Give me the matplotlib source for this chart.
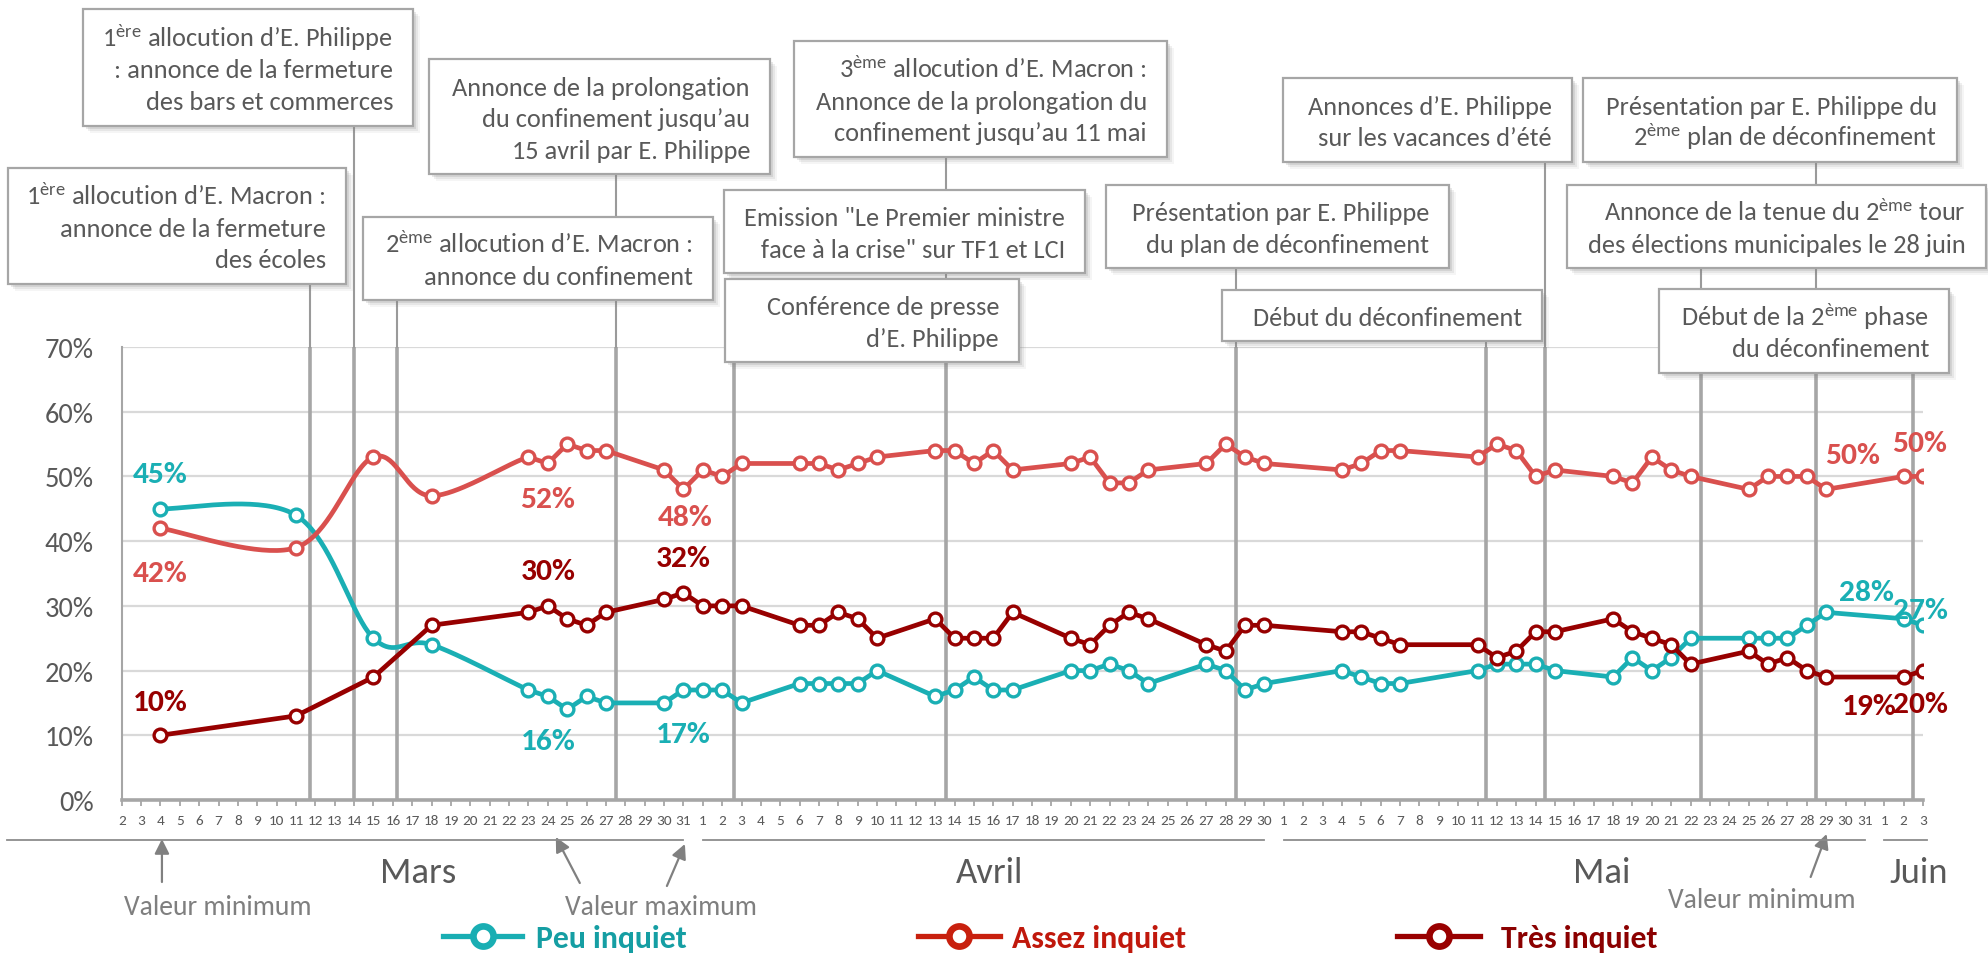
import datetime as dt
import numpy as np
import matplotlib
matplotlib.use("Agg")
import matplotlib.pyplot as plt
from matplotlib import font_manager as fm
from matplotlib.patches import Rectangle
from matplotlib.lines import Line2D
from matplotlib import transforms as mtrans

# ------------------------------------------------------------------ data
dates = ["03-04", "03-11", "03-15", "03-18", "03-23", "03-24", "03-25", "03-26", "03-27", "03-30", "03-31",
         "04-01", "04-02", "04-03", "04-06", "04-07", "04-08", "04-09", "04-10", "04-13", "04-14", "04-15",
         "04-16", "04-17", "04-20", "04-21", "04-22", "04-23", "04-24", "04-27", "04-28", "04-29", "04-30",
         "05-04", "05-05", "05-06", "05-07", "05-11", "05-12", "05-13", "05-14", "05-15", "05-18", "05-19",
         "05-20", "05-21", "05-22", "05-25", "05-26", "05-27", "05-28", "05-29",
         "06-02", "06-03"]

peu = [45, 44, 25, 24, 17, 16, 14, 16, 15, 15, 17,
       17, 17, 15, 18, 18, 18, 18, 20, 16, 17, 19, 17, 17, 20, 20, 21, 20, 18, 21, 20, 17, 18,
       20, 19, 18, 18, 20, 21, 21, 21, 20, 19, 22, 20, 22, 25, 25, 25, 25, 27, 29,
       28, 27]

assez = [42, 39, 53, 47, 53, 52, 55, 54, 54, 51, 48,
         51, 50, 52, 52, 52, 51, 52, 53, 54, 54, 52, 54, 51, 52, 53, 49, 49, 51, 52, 55, 53, 52,
         51, 52, 54, 54, 53, 55, 54, 50, 51, 50, 49, 53, 51, 50, 48, 50, 50, 50, 48,
         50, 50]

tres = [10, 13, 19, 27, 29, 30, 28, 27, 29, 31, 32,
        30, 30, 30, 27, 27, 29, 28, 25, 28, 25, 25, 25, 29, 25, 24, 27, 29, 28, 24, 23, 27, 27,
        26, 26, 25, 24, 24, 22, 23, 26, 26, 28, 26, 25, 24, 21, 23, 21, 22, 20, 19,
        19, 20]

series_names = ["Peu inquiet", "Assez inquiet", "Très inquiet"]
month_names = ["Mars", "Avril", "Mai", "Juin"]
yticks = [0, 10, 20, 30, 40, 50, 60, 70]

# data labels: (series, date)
label_points = [("peu", "03-04"), ("assez", "03-04"), ("tres", "03-04"),
                ("assez", "03-24"), ("tres", "03-24"), ("peu", "03-24"),
                ("assez", "03-31"), ("tres", "03-31"), ("peu", "03-31"),
                ("assez", "06-02"), ("assez", "06-03"),
                ("peu", "06-02"), ("peu", "06-03"),
                ("tres", "06-02"), ("tres", "06-03")]

# annotation boxes (text lines)
box_texts = [
    ["1$^{\\mathrm{ère}}$ allocution d’E. Philippe", ": annonce de la fermeture", "des bars et commerces"],
    ["1$^{\\mathrm{ère}}$ allocution d’E. Macron :", "annonce de la fermeture", "des écoles"],
    ["Annonce de la prolongation", "du confinement jusqu’au", "15 avril par E. Philippe"],
    ["2$^{\\mathrm{ème}}$ allocution d’E. Macron :", "annonce du confinement"],
    ["3$^{\\mathrm{ème}}$ allocution d’E. Macron :", "Annonce de la prolongation du", "confinement jusqu’au 11 mai"],
    ["Emission \"Le Premier ministre", "face à la crise\" sur TF1 et LCI"],
    ["Conférence de presse", "d’E. Philippe"],
    ["Annonces d’E. Philippe", "sur les vacances d’été"],
    ["Présentation par E. Philippe du", "2$^{\\mathrm{ème}}$ plan de déconfinement"],
    ["Présentation par E. Philippe", "du plan de déconfinement"],
    ["Annonce de la tenue du 2$^{\\mathrm{ème}}$ tour", "des élections municipales le 28 juin"],
    ["Début du déconfinement"],
    ["Début de la 2$^{\\mathrm{ème}}$ phase", "du déconfinement"],
]

# ------------------------------------------------------------------ layout / style
W, H, DPI = 1988, 954, 100
X0_PX, X1_PX, Y0_PX, YTOP_PX = 121.7, 1923.0, 801.0, 348.0

# box rectangles (x0, y0, x1, y1) in image pixels (top-left origin)
box_rects = [(83, 10, 413, 127), (8, 169, 346, 285), (429, 60, 770, 175), (363, 218, 713, 301),
             (794, 42, 1167, 158), (724, 191, 1085, 274), (725, 280, 1019, 363),
             (1283, 79, 1572, 163), (1583, 79, 1957, 163), (1106, 186, 1449, 269),
             (1567, 186, 1986, 269), (1222, 291, 1542, 342), (1659, 290, 1949, 374)]

# event lines: x position (in day index units) and the y pixel where the connector starts
event_x = [9.7, 12.0, 14.2, 25.5, 31.6, 42.55, 57.55, 70.45, 73.5, 81.55, 87.5, 92.5]
event_top = [285, 127, 301, 175, 363, 158, 269, 342, 163, 269, 163, 374]

# label offsets in pixels (dx, dy up)
label_offsets = [(0, 38), (0, -41), (0, 37), (0, -32), (0, 38), (0, -41),
                 (2, -24), (0, 38), (0, -41), (-51, 25), (-3, 37), (-37, 30), (-3, 19),
                 (-34, -26), (-3, -30)]

month_label_x = [15.3, 44.8, 76.4, 92.8]
smooth_upto = {"peu": 5, "assez": 5, "tres": 1}

PEU_C, ASSEZ_C, TRES_C = "#1AAFB4", "#D9504E", "#970000"
LEG_LINE = ["#19AEB3", "#C8200E", "#990000"]
LEG_TEXT = ["#159EA3", "#C0180C", "#8B0000"]
TXT = "#595959"
GRAY = "#A6A6A6"


def pick_font(cands):
    for f in cands:
        try:
            fm.findfont(fm.FontProperties(family=f), fallback_to_default=False)
            return f
        except Exception:
            pass
    return "DejaVu Sans"


FONT = pick_font(["Carlito", "Lato", "Open Sans", "DejaVu Sans"])
plt.rcParams["font.family"] = [FONT, "DejaVu Sans"]
plt.rcParams["mathtext.fontset"] = "custom"
plt.rcParams["mathtext.rm"] = FONT
plt.rcParams["mathtext.it"] = FONT + ":italic"
plt.rcParams["mathtext.bf"] = FONT + ":bold"

fig = plt.figure(figsize=(W / DPI, H / DPI), dpi=DPI)
fig.patch.set_facecolor("white")
renderer = fig.canvas.get_renderer()


def fx(x):
    return x / W


def fy(y):
    return 1 - y / H


def fit_size(s, target_px, weight="normal"):
    t = fig.text(0, 0, s, fontsize=20, fontweight=weight)
    w = t.get_window_extent(renderer=renderer).width
    t.remove()
    return 20 * target_px / w


BOX_FS = fit_size("Annonce de la prolongation", 298)
YT_FS = fit_size("70%", 49)
XT_FS = fit_size("20", 15.5)
MONTH_FS = fit_size("Mars", 76)
VAL_FS = fit_size("Valeur minimum", 188)
LAB_FS = fit_size("45%", 55, "bold")
LEG_FS = fit_size("Peu inquiet", 151, "bold")


def cap_px(fs):
    return 0.72 * fs * DPI / 72


# ------------------------------------------------------------------ axes
ax = fig.add_axes([fx(X0_PX), fy(Y0_PX), (X1_PX - X0_PX) / W, (Y0_PX - YTOP_PX) / H])
START = dt.date(2020, 3, 2)
END = dt.date(2020, 6, 3)
n_days = (END - START).days


def day_index(s):
    m, d = map(int, s.split("-"))
    return (dt.date(2020, m, d) - START).days


x = np.array([day_index(s) for s in dates], dtype=float)
values = {"peu": np.array(peu, float), "assez": np.array(assez, float), "tres": np.array(tres, float)}
colors = {"peu": PEU_C, "assez": ASSEZ_C, "tres": TRES_C}

ax.set_xlim(0, n_days)
ax.set_ylim(0, 70)
ax.set_yticks(yticks)
ax.set_yticklabels([f"{v}%" for v in yticks])
ax.set_xticks(range(n_days + 1))
ax.set_xticklabels([str((START + dt.timedelta(days=i)).day) for i in range(n_days + 1)])
ax.tick_params(axis="x", length=4, width=1.3, color=GRAY, labelsize=XT_FS, labelcolor=TXT, pad=6)
ax.tick_params(axis="y", length=0, labelsize=YT_FS, labelcolor=TXT, pad=20)
for sp in ["top", "right"]:
    ax.spines[sp].set_visible(False)
ax.spines["left"].set_color(GRAY)
ax.spines["left"].set_linewidth(1.5)
ax.spines["bottom"].set_color(GRAY)
ax.spines["bottom"].set_linewidth(2.6)
ax.spines["bottom"].set_zorder(4)
ax.yaxis.grid(True, color="#D9D9D9", lw=1.6, zorder=0)
ax.set_axisbelow(True)

for ex in event_x:
    ax.axvline(ex, color=GRAY, lw=2.6, zorder=1)


def smooth_path(xv, yv, n_smooth, samples=40):
    P = np.column_stack([xv, yv]).astype(float)
    xs, ys = [P[0, 0]], [P[0, 1]]
    for i in range(len(P) - 1):
        if i < n_smooth - 1:
            p0 = P[i - 1] if i > 0 else P[i]
            p1, p2 = P[i], P[i + 1]
            p3 = P[i + 2] if i + 2 < len(P) else P[i + 1]
            c1 = p1 + (p2 - p0) / 6
            c2 = p2 - (p3 - p1) / 6
            t = np.linspace(0, 1, samples)[1:, None]
            B = (1 - t) ** 3 * p1 + 3 * (1 - t) ** 2 * t * c1 + 3 * (1 - t) * t ** 2 * c2 + t ** 3 * p2
            xs.extend(B[:, 0])
            ys.extend(B[:, 1])
        else:
            xs.append(P[i + 1, 0])
            ys.append(P[i + 1, 1])
    return xs, ys


for k, name in enumerate(["peu", "assez", "tres"]):
    xs, ys = smooth_path(x, values[name], smooth_upto[name])
    ax.plot(xs, ys, color=colors[name], lw=3.4, zorder=3 + k, solid_joinstyle="round")
    ax.plot(x, values[name], ls="none", marker="o", ms=9.2, mew=2.4, mfc="white",
            mec=colors[name], zorder=3.5 + k)

idx_of = {d: i for i, d in enumerate(dates)}
for (name, d), (dx, dy) in zip(label_points, label_offsets):
    v = values[name][idx_of[d]]
    ax.annotate(f"{v:.0f}%", xy=(x[idx_of[d]], v), xytext=(dx * 0.72, (dy - cap_px(LAB_FS) / 2) * 0.72),
                textcoords="offset points", ha="center", va="baseline", fontsize=LAB_FS,
                fontweight="bold", color=colors[name], zorder=10, annotation_clip=False)

blend = mtrans.blended_transform_factory(ax.transData, fig.transFigure)

# connectors above plot
for ex, top in zip(event_x, event_top):
    if top < YTOP_PX:
        fig.add_artist(Line2D([ex, ex], [fy(top), fy(YTOP_PX)], transform=blend, color="#9A9A9A",
                              lw=1.5, zorder=5))

# month separators and labels
month_first = [0, day_index("04-01"), day_index("05-01"), day_index("06-01")]
month_last = [day_index("03-31"), day_index("04-30"), day_index("05-31"), n_days]
ext_left = [-5.9, 0, 0, 0]
ext_right = [0, 0, 0, 0.2]
for i in range(4):
    fig.add_artist(Line2D([month_first[i] + ext_left[i], month_last[i] + ext_right[i]],
                          [fy(840.5), fy(840.5)], transform=blend, color="#8C8C8C", lw=1.3, zorder=5))
    fig.text(month_label_x[i], fy(883), month_names[i], transform=blend,
             ha="center", va="baseline", fontsize=MONTH_FS, color=TXT)

# "Valeur minimum / maximum" annotations
arrow_specs = [  # (tip date, tip dx px, tip y, tail dx px, tail y)
    ("03-04", 1.5, 840, 1.5, 883),
    ("03-24", 8, 838, 32, 884),
    ("03-31", 1.5, 845, -16.5, 887),
    ("05-29", 0.5, 835, -15.5, 878),
]
px_per_day = (X1_PX - X0_PX) / n_days
for d, tdx, ty, sdx, sy in arrow_specs:
    xi = day_index(d)
    ax.annotate("", xy=(xi + tdx / px_per_day, fy(ty)), xycoords=("data", "figure fraction"),
                xytext=(xi + sdx / px_per_day, fy(sy)), textcoords=("data", "figure fraction"),
                arrowprops=dict(arrowstyle="-|>", color="#808080", lw=1.6, mutation_scale=22,
                                shrinkA=0, shrinkB=0), annotation_clip=False)
fig.text(fx(218), fy(915), "Valeur minimum", ha="center", va="baseline", fontsize=VAL_FS, color="#7F7F7F")
fig.text(fx(661), fy(915), "Valeur maximum", ha="center", va="baseline", fontsize=VAL_FS, color="#7F7F7F")
fig.text(fx(1762), fy(908), "Valeur minimum", ha="center", va="baseline", fontsize=VAL_FS, color="#7F7F7F")

# annotation boxes
LINE_SP = 31.5
for (x0, y0, x1, y1), lines in zip(box_rects, box_texts):
    for off, a in [(7, 0.08), (5, 0.12), (3, 0.18)]:
        fig.add_artist(Rectangle((fx(x0 + off), fy(y1 + off)), (x1 - x0) / W, (y1 - y0) / H,
                                 transform=fig.transFigure, facecolor="#808080", edgecolor="none",
                                 alpha=a, zorder=6))
for (x0, y0, x1, y1), lines in zip(box_rects, box_texts):
    fig.add_artist(Rectangle((fx(x0), fy(y1)), (x1 - x0) / W, (y1 - y0) / H, transform=fig.transFigure,
                             facecolor="white", edgecolor=GRAY, lw=1.6, zorder=7))
    n = len(lines)
    cy = (y0 + y1) / 2
    for i, s in enumerate(lines):
        yc = cy + (i - (n - 1) / 2) * LINE_SP
        fig.text(fx(x1 - 20), fy(yc + cap_px(BOX_FS) / 2), s, ha="right", va="baseline",
                 fontsize=BOX_FS, color=TXT, zorder=8)

# legend
leg_specs = [(443, 522, 536), (918, 1000, 1012), (1397, 1480, 1501)]
LEG_Y = 937
for i, (lx0, lx1, tx) in enumerate(leg_specs):
    fig.add_artist(Line2D([fx(lx0), fx(lx1)], [fy(LEG_Y), fy(LEG_Y)], transform=fig.transFigure,
                          color=LEG_LINE[i], lw=3.8, zorder=6))
    fig.add_artist(Line2D([fx((lx0 + lx1) / 2)], [fy(LEG_Y)], transform=fig.transFigure, ls="none",
                          marker="o", ms=14.5, mew=4.8, mfc="white", mec=LEG_LINE[i], zorder=7))
    fig.text(fx(tx), fy(LEG_Y + cap_px(LEG_FS) / 2), series_names[i], ha="left", va="baseline",
             fontsize=LEG_FS, fontweight="bold", color=LEG_TEXT[i])

fig.savefig("out.png", dpi=DPI, facecolor="white")
